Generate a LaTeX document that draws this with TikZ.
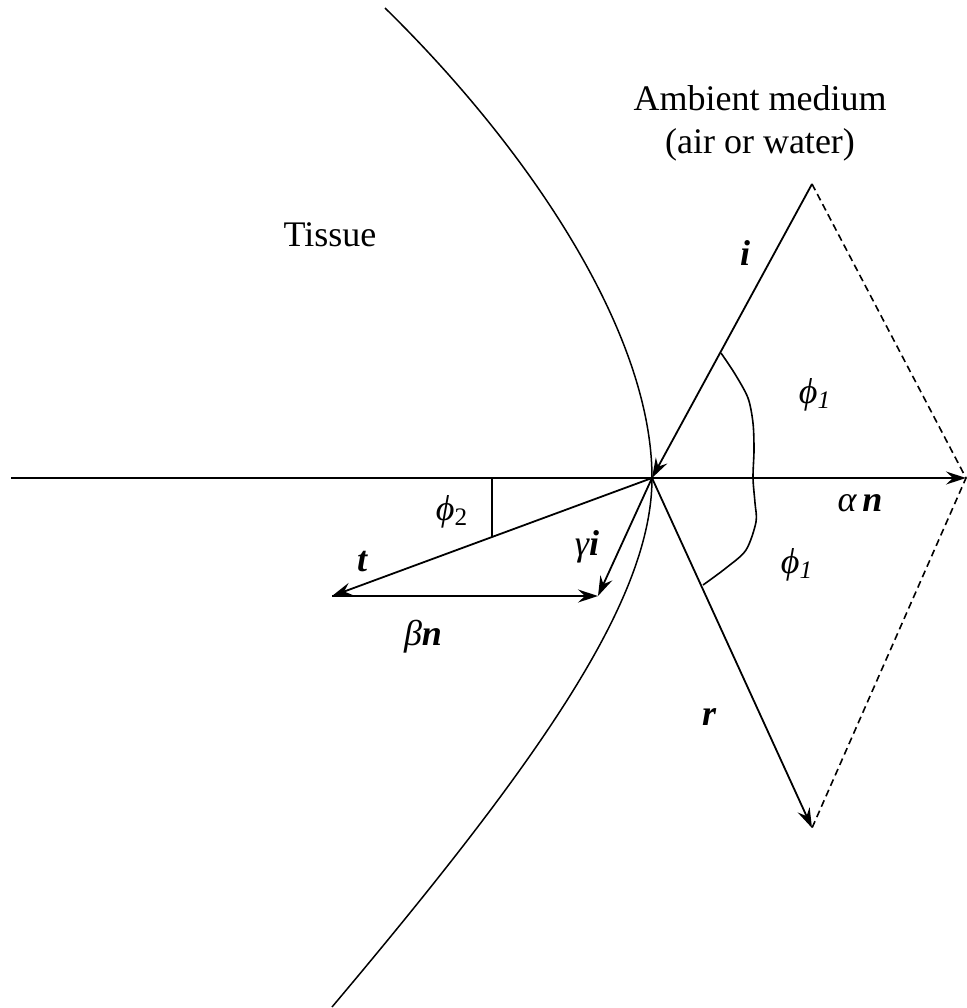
\documentclass[tikz,border=0pt]{standalone}
\usepackage{fontspec}
\setmainfont{Liberation Serif}
\usetikzlibrary{arrows.meta,positioning,calc}

\begin{document}
\begin{tikzpicture}[x=0.5pt,y=-0.5pt,
    vec/.style={line width=0.9pt,
      -{Stealth[length=10pt,width=6.5pt,inset=3.5pt]}},
    plain/.style={line width=0.8pt},
    lbl/.style={font=\fontsize{18}{21.5}\selectfont\itshape,inner sep=0pt}]
  \useasboundingbox (0,0) rectangle (966,1008);
  %% Key points (pixel grid, y downwards)
  \coordinate (O) at (652,478);   % point of incidence
  \coordinate (L) at (11,478);
  \coordinate (N) at (966,478);
  \coordinate (A) at (812,184);
  \coordinate (R) at (812,828);
  \coordinate (T) at (332,596);
  \coordinate (G) at (598,596);
  \coordinate (P) at (492,478);
  \coordinate (Q) at (492,537);
  \coordinate (S1) at (385,8);
  \coordinate (S2) at (332,1007);
  %% Tissue surface
  \draw[plain,line width=0.75pt] (S1) .. controls (525,145) and (652,330) .. (O)
    .. controls (652,600) and (540,760) .. (S2);
  %% Normal and vectors
  \draw[vec] (L) -- (N);
  \draw[vec] (A) -- (O);
  \draw[vec] (O) -- (R);
  \draw[vec] (O) -- (T);
  \draw[vec] (T) -- (G);
  \draw[vec] (O) -- (G);
  %% Parallelogram completion
  \draw[plain,dash pattern=on 3.5pt off 2.2pt] (A) -- (N) -- (R);
  %% Angle marks
  \draw[plain] (P) -- (Q);
  \draw[plain] plot[smooth] coordinates
    {(721,353) (735,374) (748,398) (753,423) (754,450) (753,478)
     (755,503) (756,522) (746,550) (726,568) (703,585)};
  %% Labels
  \node[lbl] (li)  at (745,253) {\textbf{i}};
  \node[lbl] (lp1) at (815,395) {ϕ\textsubscript{1}};
  \node[lbl] (lp3) at (797,565) {ϕ\textsubscript{1}};
  \node[lbl] (lan) at (860,503) {α\,\textbf{n}};
  \node[lbl] (lgi) at (587,547) {γ\textbf{i}};
  \node[lbl] (lt)  at (362,562) {\textbf{t}};
  \node[lbl] (lbn) at (423,637) {β\textbf{n}};
  \node[lbl] (lp2) at (452,512) {ϕ\textsubscript{\upshape 2}};
  \node[lbl] (lr)  at (709,717) {\textbf{r}};
  \node[font=\fontsize{18}{21.5}\selectfont,inner sep=0pt] (tis)
       at (330,235) {Tissue};
  \node[font=\fontsize{18}{21.5}\selectfont,inner sep=0pt,align=center]
       (amb) at (760,123) {Ambient medium\\(air or water)};
\end{tikzpicture}
\end{document}
